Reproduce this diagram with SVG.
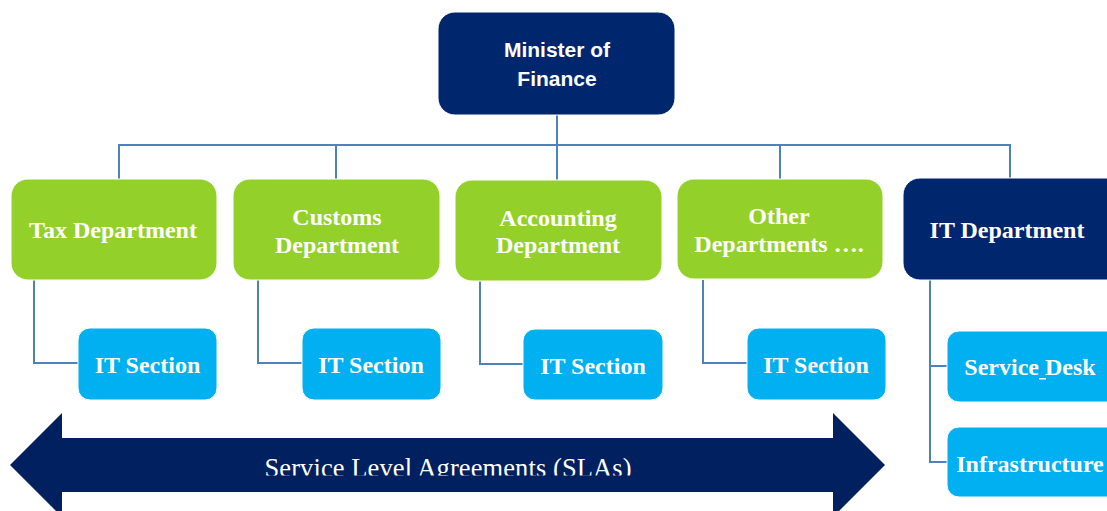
<svg xmlns="http://www.w3.org/2000/svg" width="1107" height="511" viewBox="0 0 1107 511">
  <style>
    .navy { fill: #00266e; }
    .green { fill: #94d02a; }
    .sky { fill: #00b0f0; }
    .box { stroke: #ffffff; stroke-width: 1; }
    .sans { font-family: "Liberation Sans", Arial, sans-serif; font-weight: bold; font-size: 21px; fill: #ffffff; text-anchor: middle; }
    .serif { font-family: "Liberation Serif", "Times New Roman", serif; font-weight: bold; font-size: 24px; fill: #ffffff; text-anchor: middle; }
    .link { fill: none; stroke: #4f81bd; stroke-width: 2; }
  </style>
  <defs>
    <clipPath id="bandClip">
      <rect x="0" y="430" width="1107" height="45.5"/>
    </clipPath>
  </defs>

  <rect width="1107" height="511" fill="#ffffff"/>

  <!-- connectors -->
  <g id="connectors">
    <path class="link" d="M557 115 V182"/>
    <path class="link" d="M119 180 V145 H1010 V179"/>
    <path class="link" d="M336 145 V180"/>
    <path class="link" d="M780 145 V180"/>
    <path class="link" d="M34 280 V363 H79"/>
    <path class="link" d="M258 280 V363 H303"/>
    <path class="link" d="M480 281 V364 H524"/>
    <path class="link" d="M703 280 V363 H748"/>
    <path class="link" d="M930 280 V462 H948"/>
    <path class="link" d="M930 366 H948"/>
  </g>

  <!-- top level -->
  <g id="minister">
    <rect class="navy box" x="438" y="12" width="237" height="103" rx="17"/>
    <text class="sans" x="557" y="57">Minister of</text>
    <text class="sans" x="557" y="86">Finance</text>
  </g>

  <!-- departments -->
  <g id="tax-department">
    <rect class="green box" x="11" y="179" width="206" height="101" rx="17"/>
    <text class="serif" x="113" y="238">Tax Department</text>
  </g>
  <g id="customs-department">
    <rect class="green box" x="233" y="179" width="207" height="101" rx="17"/>
    <text class="serif" x="337" y="225">Customs</text>
    <text class="serif" x="337" y="253">Department</text>
  </g>
  <g id="accounting-department">
    <rect class="green box" x="455" y="180" width="207" height="101" rx="17"/>
    <text class="serif" x="558" y="226">Accounting</text>
    <text class="serif" x="558" y="253">Department</text>
  </g>
  <g id="other-departments">
    <rect class="green box" x="677" y="179" width="206" height="100" rx="17"/>
    <text class="serif" x="779" y="224">Other</text>
    <text class="serif" x="779" y="252">Departments ….</text>
  </g>
  <g id="it-department">
    <rect class="navy box" x="903" y="178" width="222" height="102" rx="17"/>
    <text class="serif" x="1007" y="238">IT Department</text>
  </g>

  <!-- IT sections -->
  <g id="it-section-tax">
    <rect class="sky box" x="78" y="328" width="139" height="72" rx="12"/>
    <text class="serif" x="147.5" y="373">IT Section</text>
  </g>
  <g id="it-section-customs">
    <rect class="sky box" x="302" y="328" width="139" height="72" rx="12"/>
    <text class="serif" x="371" y="373">IT Section</text>
  </g>
  <g id="it-section-accounting">
    <rect class="sky box" x="523" y="329" width="140" height="71" rx="12"/>
    <text class="serif" x="593" y="374">IT Section</text>
  </g>
  <g id="it-section-other">
    <rect class="sky box" x="747" y="328" width="139" height="72" rx="12"/>
    <text class="serif" x="816" y="373">IT Section</text>
  </g>

  <!-- IT department units -->
  <g id="service-desk">
    <rect class="sky box" x="947" y="331" width="175" height="71" rx="12"/>
    <text class="serif" x="1030" y="375">Service Desk</text>
    <rect x="1039" y="378" width="7" height="1.5" fill="#ffffff"/>
  </g>
  <g id="infrastructure">
    <rect class="sky box" x="947" y="427" width="175" height="70" rx="12"/>
    <text class="serif" x="1030" y="472">Infrastructure</text>
  </g>

  <!-- service level agreements band -->
  <g id="sla">
    <path fill="#002060" d="M10 465 L62 413 V438 H833 V413 L885 465 L833 517 V492 H62 V517 Z"/>
    <text x="448" y="477" clip-path="url(#bandClip)" font-family="'Liberation Serif', 'Times New Roman', serif" font-size="26.5" fill="#ffffff" text-anchor="middle" textLength="367">Service Level Agreements (SLAs)</text>
  </g>
</svg>
